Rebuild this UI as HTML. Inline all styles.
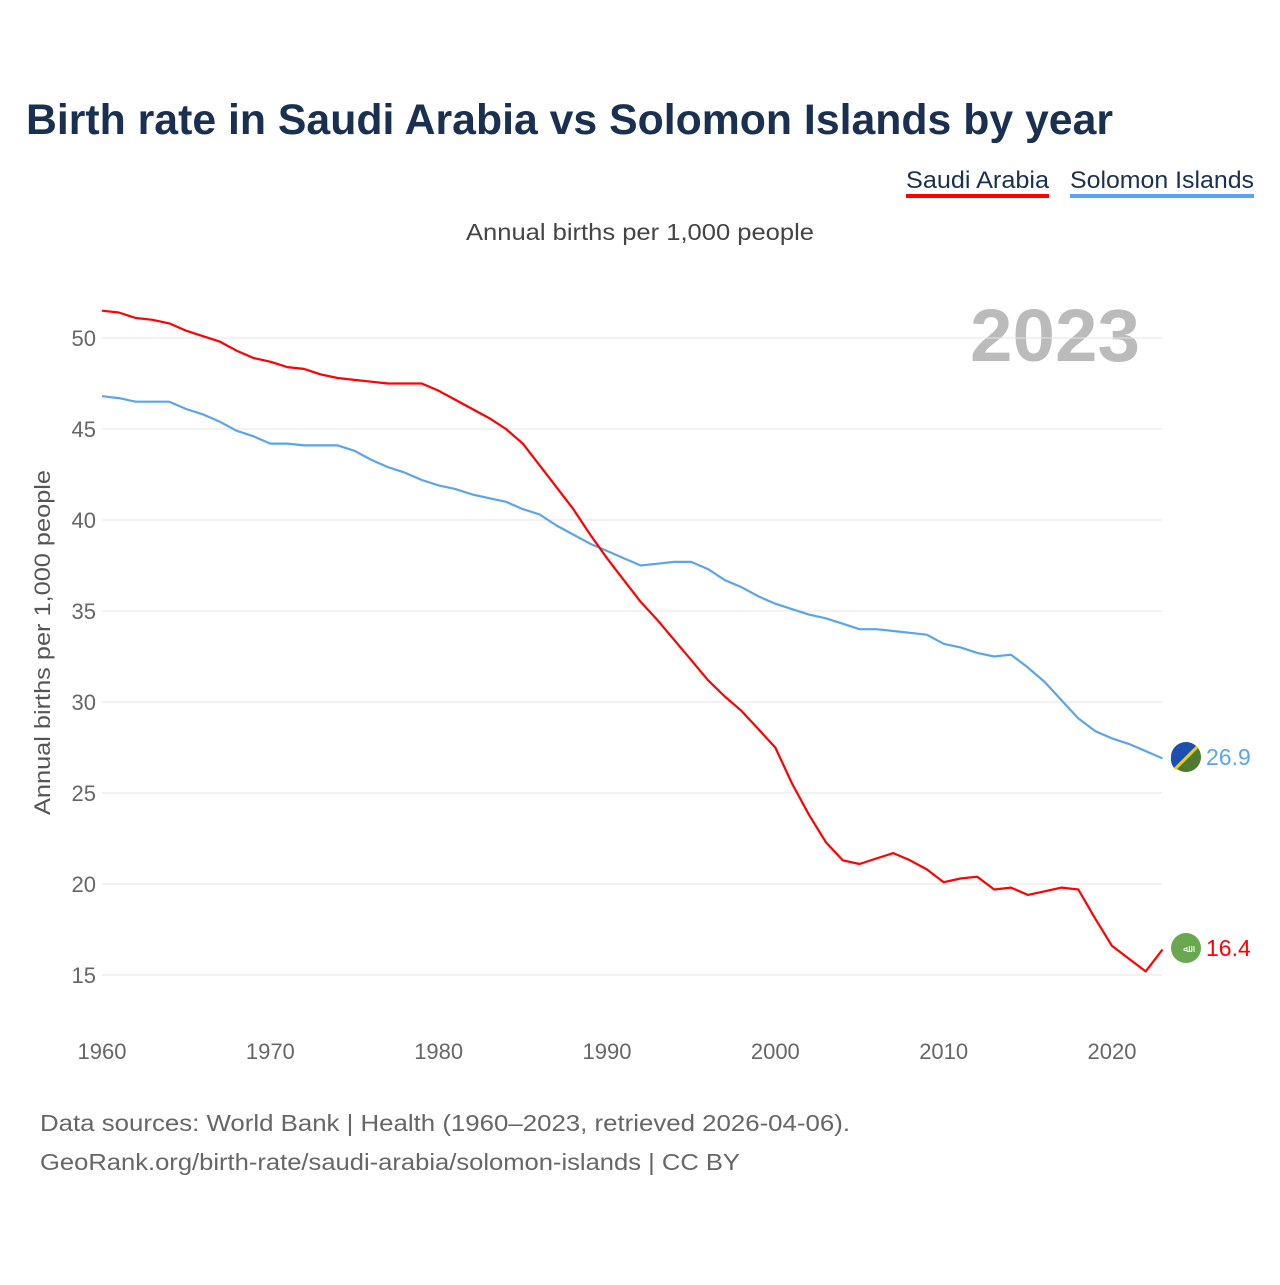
<!DOCTYPE html>
<html><head><meta charset="utf-8"><style>
body{margin:0;background:#fff;font-family:"Liberation Sans",sans-serif;}
svg text{font-family:"Liberation Sans",sans-serif;}
</style></head><body>
<svg id="c" width="1280" height="1280" viewBox="0 0 1280 1280">
<text x="26" y="134" font-size="43" font-weight="bold" fill="#1a3050" textLength="1087" lengthAdjust="spacingAndGlyphs">Birth rate in Saudi Arabia vs Solomon Islands by year</text>
<g><text x="906" y="188" font-size="24" fill="#1a3050" textLength="143" lengthAdjust="spacingAndGlyphs">Saudi Arabia</text><rect x="906" y="194" width="143" height="4" fill="#ff0000"/></g>
<g><text x="1070" y="188" font-size="24" fill="#1a3050" textLength="184" lengthAdjust="spacingAndGlyphs">Solomon Islands</text><rect x="1070" y="194" width="184" height="4" fill="#5aa5ea"/></g>
<text x="466" y="240" font-size="23" fill="#444" textLength="348" lengthAdjust="spacingAndGlyphs">Annual births per 1,000 people</text>
<text x="970" y="361" font-size="74" font-weight="bold" fill="#bbb" textLength="170" lengthAdjust="spacingAndGlyphs">2023</text>
<text transform="translate(50,815) rotate(-90)" font-size="22" fill="#555" textLength="345" lengthAdjust="spacingAndGlyphs">Annual births per 1,000 people</text>
<g id="grid"></g><g id="lines"></g>
<g><circle cx="1186" cy="757" r="15" fill="#4d7a2e"/><path d="M1171 757 A15 15 0 0 1 1197 747 L1175 769 A15 15 0 0 1 1171 757Z" fill="#1d4fb0"/><line x1="1175" y1="769" x2="1197" y2="747" stroke="#f2d100" stroke-width="3"/></g>
<g><circle cx="1186" cy="948" r="15" fill="#6aa84f"/><text x="1186" y="952" font-size="10" fill="#fff" text-anchor="middle">ﷲ</text></g>
<text x="1206" y="765" font-size="23" fill="#5aa5ea">26.9</text>
<text x="1206" y="956" font-size="23" fill="#ff0000">16.4</text>
<text x="40" y="1131" font-size="23" fill="#666" textLength="810" lengthAdjust="spacingAndGlyphs">Data sources: World Bank | Health (1960–2023, retrieved 2026-04-06).</text>
<text x="40" y="1170" font-size="23" fill="#666" textLength="700" lengthAdjust="spacingAndGlyphs">GeoRank.org/birth-rate/saudi-arabia/solomon-islands | CC BY</text>
</svg>
<script>
const years=[];for(let y=1960;y<=2023;y++)years.push(y);
const saudi=[51.5,51.4,51.1,51.0,50.8,50.4,50.1,49.8,49.3,48.9,48.7,48.4,48.3,48.0,47.8,47.7,47.6,47.5,47.5,47.5,47.1,46.6,46.1,45.6,45.0,44.2,43.0,41.8,40.6,39.2,37.9,36.7,35.5,34.5,33.4,32.3,31.2,30.3,29.5,28.5,27.5,25.5,23.8,22.3,21.3,21.1,21.4,21.7,21.3,20.8,20.1,20.3,20.4,19.7,19.8,19.4,19.6,19.8,19.7,18.1,16.6,15.9,15.2,16.4];
const solomon=[46.8,46.7,46.5,46.5,46.5,46.1,45.8,45.4,44.9,44.6,44.2,44.2,44.1,44.1,44.1,43.8,43.3,42.9,42.6,42.2,41.9,41.7,41.4,41.2,41.0,40.6,40.3,39.7,39.2,38.7,38.3,37.9,37.5,37.6,37.7,37.7,37.3,36.7,36.3,35.8,35.4,35.1,34.8,34.6,34.3,34.0,34.0,33.9,33.8,33.7,33.2,33.0,32.7,32.5,32.6,31.9,31.1,30.1,29.1,28.4,28.0,27.7,27.3,26.9];
const yTicks=[15,20,25,30,35,40,45,50];
const xTicks=[1960,1970,1980,1990,2000,2010,2020];
const X=v=>102+(v-1960)*(1112-102)/60;
const Y=v=>975-(v-15)*(975-338)/35;
const NS="http://www.w3.org/2000/svg";
const g=document.getElementById('grid'),L=document.getElementById('lines');
function mk(tag,at,par){const e=document.createElementNS(NS,tag);for(const k in at)e.setAttribute(k,at[k]);par.appendChild(e);return e;}
yTicks.forEach(t=>{
 const l=mk('line',{x1:102,x2:1162,y1:Y(t),y2:Y(t),stroke:'#e4e4e4','stroke-width':1},g);
 
 
 const tx=mk('text',{x:96,y:Y(t)+8,'font-size':22,fill:'#666','text-anchor':'end'},g);tx.textContent=t;
 
 
});
xTicks.forEach(t=>{
 const tx=mk('text',{x:X(t),y:1059,'font-size':22,fill:'#666','text-anchor':'middle'},g);tx.textContent=t;
 
 
});
function line(vals,col,name){
 const p=mk('path',{d:vals.map((v,i)=>(i?'L':'M')+X(years[i]).toFixed(1)+' '+Y(v).toFixed(1)).join(''),fill:'none',stroke:col,'stroke-width':2.2,'stroke-linejoin':'round'},L);
 
 
}
line(solomon,'#5aa5ea','solomon-islands-line');
line(saudi,'#ff0000','saudi-arabia-line');
</script>
</body></html>
